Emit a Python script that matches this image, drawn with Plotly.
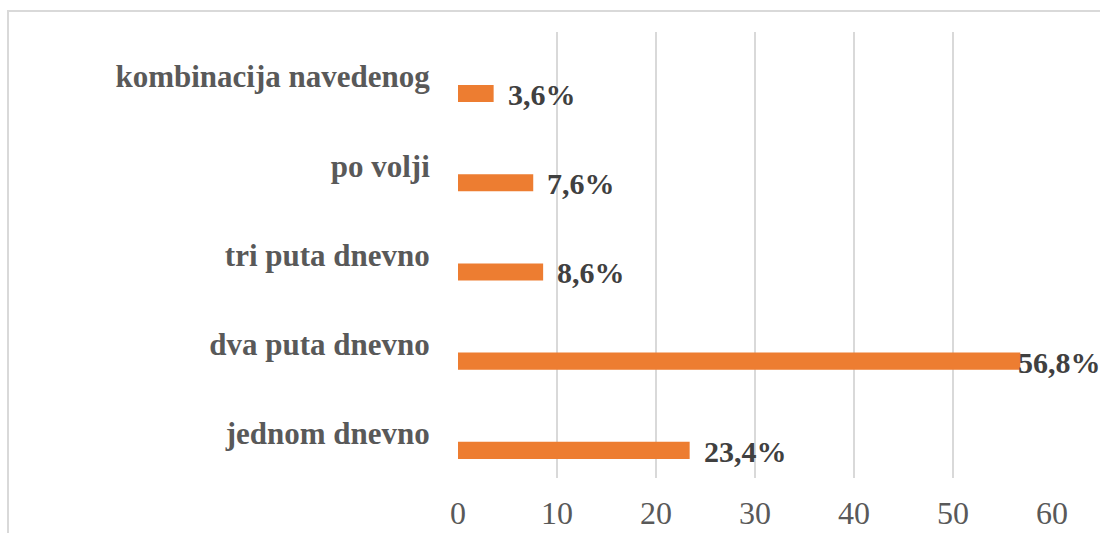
import plotly.graph_objects as go

# ---- data ----
categories = ["jednom dnevno", "dva puta dnevno", "tri puta dnevno", "po volji", "kombinacija navedenog"]
values = [23.4, 56.8, 8.6, 7.6, 3.6]
value_labels = ["23,4%", "56,8%", "8,6%", "7,6%", "3,6%"]
x_ticks = [0, 10, 20, 30, 40, 50, 60]

# ---- layout constants ----
W, H = 1100, 533
ML, MR, MT, MB = 458, 48, 32, 55
plot_w = W - ML - MR
plot_h = H - MT - MB
band_px = plot_h / len(categories)

bar_offset = -0.286
bar_width = 0.192
bar_center_shift_px = (bar_offset + bar_width / 2) * band_px

SERIF = "Liberation Serif, Times New Roman, serif"

fig = go.Figure()
fig.add_trace(go.Bar(
    y=categories,
    x=values,
    orientation="h",
    marker=dict(color="#ED7D31", line=dict(width=0)),
    offset=bar_offset,
    width=bar_width,
    hoverinfo="skip",
))

label_xshift = {"56,8%": -4}
for cat, v, lab in zip(categories, values, value_labels):
    fig.add_annotation(
        x=v, y=cat, text=lab, showarrow=False,
        xanchor="left", yanchor="middle",
        xshift=label_xshift.get(lab, 12),
        yshift=bar_center_shift_px - 1,
        font=dict(family=SERIF, size=30, color="#404040", weight="bold"),
    )

# outer border of the chart area
fig.add_shape(
    type="rect", xref="paper", yref="paper",
    x0=(8 - ML) / plot_w, x1=(W + 10 - ML) / plot_w,
    y0=(H - MB - (H + 10)) / plot_h, y1=(H - MB - 11) / plot_h,
    line=dict(color="#D9D9D9", width=2), fillcolor="rgba(0,0,0,0)",
    layer="below",
)

fig.update_layout(
    width=W, height=H,
    margin=dict(l=ML, r=MR, t=MT, b=MB, pad=0, autoexpand=False),
    paper_bgcolor="white", plot_bgcolor="white",
    showlegend=False,
    xaxis=dict(
        range=[0, 60], tickvals=x_ticks, automargin=False,
        showgrid=True, gridcolor="#D9D9D9", gridwidth=2,
        zeroline=False, showline=False,
        ticks="outside", ticklen=7, tickcolor="rgba(0,0,0,0)",
        tickfont=dict(family=SERIF, size=32, color="#595959"),
    ),
    yaxis=dict(
        type="category", categoryorder="array", categoryarray=categories,
        automargin=False,
        showgrid=False, zeroline=False, showline=False,
        ticks="outside", ticklen=21, tickcolor="rgba(0,0,0,0)",
        tickfont=dict(family=SERIF, size=31, color="#595959", weight="bold"),
    ),
)

fig.write_html(
    "out.html",
    config={"displayModeBar": False},
    post_script="document.body.style.margin='0';document.body.style.overflow='hidden';",
)
